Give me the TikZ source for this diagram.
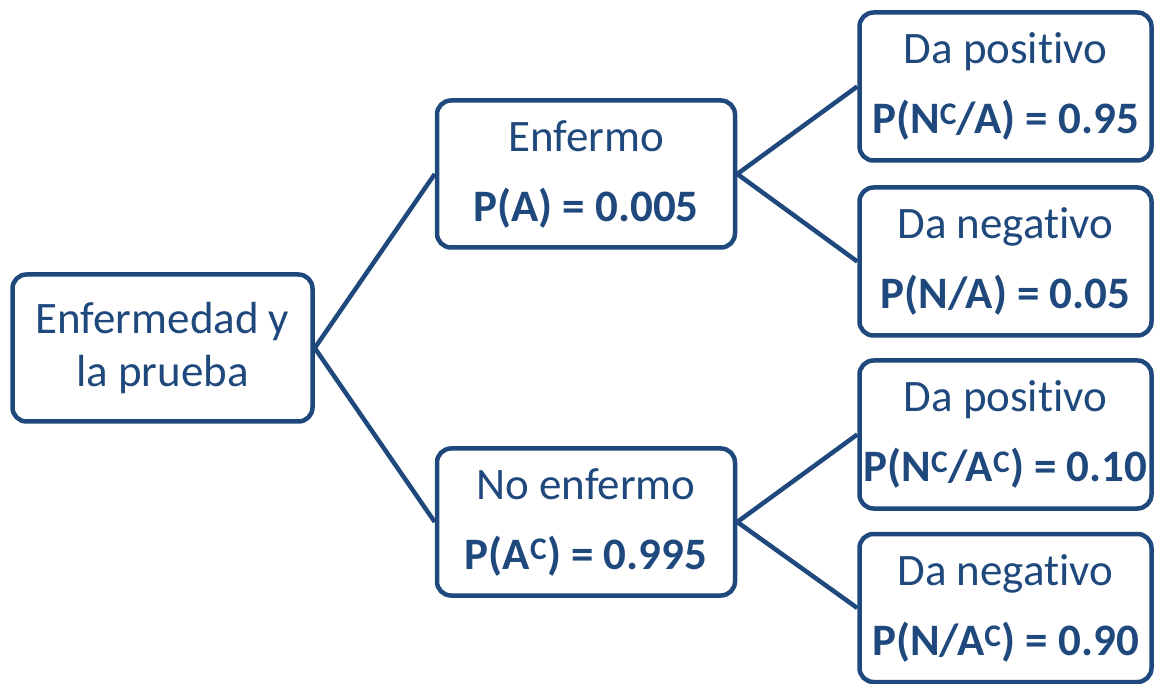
\documentclass[tikz,border=0pt]{standalone}
\usepackage{fontspec}
\setmainfont{Carlito}[Ligatures={NoCommon,NoContextual,NoRequired}]
\usepackage{xcolor}
\definecolor{cMain}{HTML}{1F497D}
\usepackage{tikz}
\usetikzlibrary{positioning}
\tikzset{
  node-box/.style={draw=cMain,line width=4.5pt,rounded corners=14pt,inner sep=0pt,
    minimum width=298pt,minimum height=147pt,align=center,text=cMain,
    font=\fontsize{45}{70}\selectfont},
  node-root/.style={minimum width=300pt,font=\fontsize{45}{53}\selectfont},
  node-leaf/.style={minimum width=292pt,minimum height=148pt},
  branch/.style={draw=cMain,line width=4.5pt},
}

\begin{document}
\begin{tikzpicture}[node distance=120pt]
  \useasboundingbox (0,0) rectangle (1157pt,-684pt);
  \node[node-box,node-root] (root) at (162.5pt,-348pt) {Enfermedad y\\la prueba};
  \node[node-box,right=of root,yshift=174pt] (enf) {Enfermo\\\textbf{P(A) = 0.005}};
  \node[node-box,right=of root,yshift=-174pt] (noenf) {No enfermo\\\textbf{P(A\textsuperscript{C}) = 0.995}};
  \node[node-box,node-leaf,right=of enf,yshift=87.5pt] (pos1) {Da positivo\\\textbf{P(N\textsuperscript{C}/A) = 0.95}};
  \node[node-box,node-leaf,right=of enf,yshift=-87.5pt] (neg1) {Da negativo\\\textbf{P(N/A) = 0.05}};
  \node[node-box,node-leaf,right=of noenf,yshift=87.5pt] (pos2) {Da positivo\\\textbf{P(N\textsuperscript{C}/A\textsuperscript{C}) = 0.10}};
  \node[node-box,node-leaf,right=of noenf,yshift=-86pt] (neg2) {Da negativo\\\textbf{P(N/A\textsuperscript{C}) = 0.90}};
  \draw[branch] (root.east) -- (enf.west);
  \draw[branch] (root.east) -- (noenf.west);
  \draw[branch] (enf.east) -- (pos1.west);
  \draw[branch] (enf.east) -- (neg1.west);
  \draw[branch] (noenf.east) -- (pos2.west);
  \draw[branch] (noenf.east) -- (neg2.west);
\end{tikzpicture}
\end{document}
